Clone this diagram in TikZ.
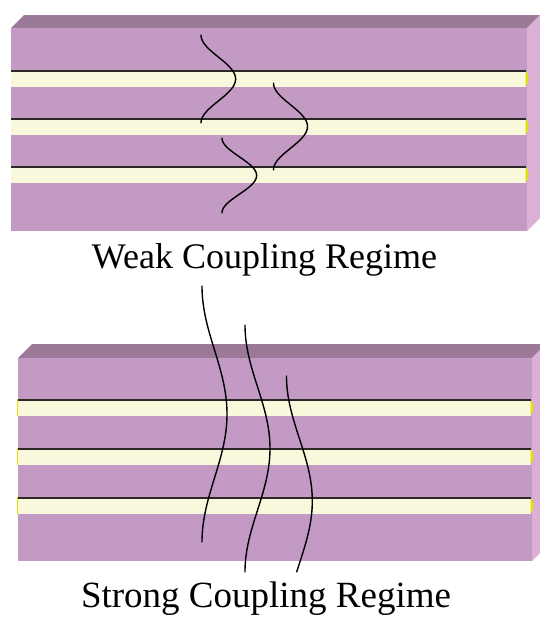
\documentclass[tikz,border=0pt]{standalone}
\usepackage{fontspec}
\setmainfont{Liberation Serif}
\definecolor{slabfront}{HTML}{C29AC4}
\definecolor{slabtop}{HTML}{9A7A98}
\definecolor{slabside}{HTML}{DCB0D5}
\definecolor{layercream}{HTML}{FAF8DC}
\definecolor{layeredge}{HTML}{E6E000}
\begin{document}
\begin{tikzpicture}[x=1pt,y=-1pt,
  front/.style={fill=slabfront},
  topface/.style={fill=slabtop},
  sideface/.style={fill=slabside},
  layer/.style={fill=layercream},
  layerline/.style={draw=black!92!olive,line width=2.2pt},
  capend/.style={fill=layeredge},
  wave/.style={draw=black,line width=1.4pt,line cap=round},
  caption/.style={font=\fontsize{36}{40}\selectfont,anchor=base,inner sep=0pt}]
\useasboundingbox (0,0) rectangle (539,622);

% ---------- upper slab ----------
\path[topface] (11,28) -- (24,15) -- (540,15) -- (527,28) -- cycle;
\path[sideface] (527,28) -- (540,15) -- (540,218) -- (527,231) -- cycle;
\path[front] (11,28) rectangle (527,231);
\foreach \yy in {70,118,166}{
  \path[layer] (11,\yy) rectangle (526,\yy+17);
  \path[capend] (525.5,\yy+1) .. controls (529.5,\yy+3) and (529.5,\yy+14) .. (525.5,\yy+16) -- cycle;
  \draw[layerline] (11,\yy+0.8) -- (526,\yy+0.8);
}
% field profiles in the weak-coupling stack
\draw[wave] plot[domain=0:1,samples=80,smooth] ({201+17.3*(1-cos(360*\x))},{35+88*\x});
\draw[wave] plot[domain=0:1,samples=80,smooth] ({273.5+17*(1-cos(360*\x))},{83+87*\x});
\draw[wave] plot[domain=0:1,samples=80,smooth] ({222+17.3*(1-cos(360*\x))},{138+75*\x});

\node[caption] (weak) at (264.5,268) {Weak Coupling Regime};

% ---------- lower slab ----------
\path[topface] (18,358) -- (32,344) -- (546,344) -- (532,358) -- cycle;
\path[sideface] (532,358) -- (546,344) -- (546,547) -- (532,561) -- cycle;
\path[front] (18,358) rectangle (532,561);
\foreach \yy in {399,448,497}{
  \path[layer] (18,\yy) rectangle (531,\yy+17);
  \path[capend] (17,\yy) rectangle (18.3,\yy+17);
  \path[capend] (530.5,\yy+1) .. controls (534.5,\yy+3) and (534.5,\yy+14) .. (530.5,\yy+16) -- cycle;
  \draw[layerline] (18,\yy+0.8) -- (531,\yy+0.8);
}
% field profiles in the strong-coupling stack
\draw[wave] plot[domain=0:1,samples=80,smooth] ({202+12.5*(1-cos(360*\x))},{286+256*\x});
\draw[wave] plot[domain=0:1,samples=80,smooth] ({245+12.5*(1-cos(360*\x))},{325+247*\x});
\draw[wave] plot[domain=0:0.784,samples=70,smooth] ({286.5+12.9*(1-cos(360*\x))},{376+250*\x});

\node[caption,font=\fontsize{37}{40}\selectfont] (strong) at (266,607) {Strong Coupling Regime};
\end{tikzpicture}
\end{document}
